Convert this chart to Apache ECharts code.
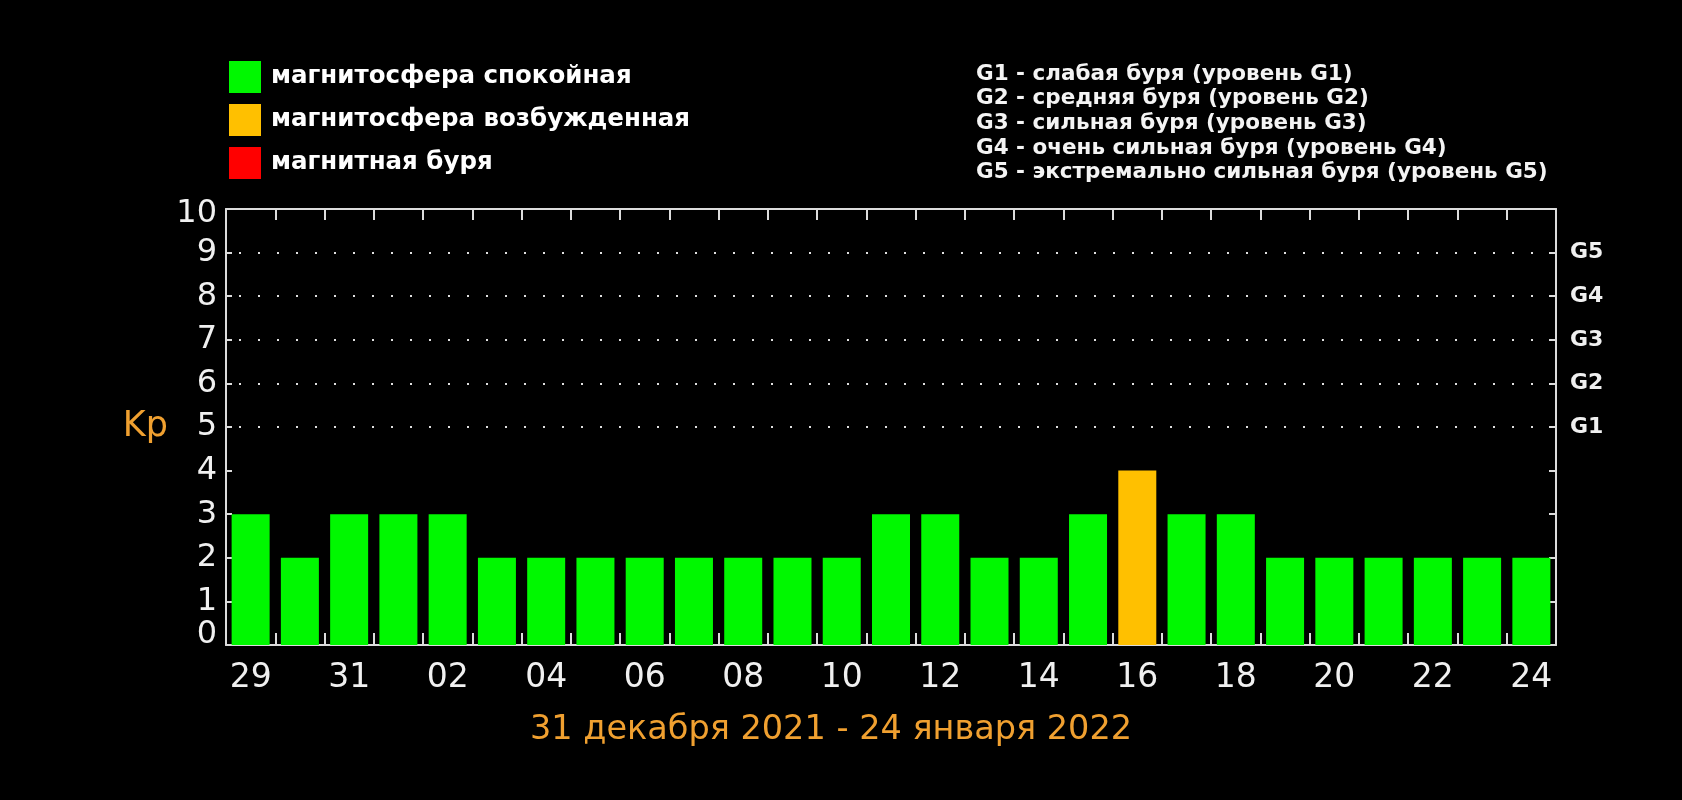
<!DOCTYPE html>
<html>
<head>
<meta charset="utf-8">
<script src="https://cdn.jsdelivr.net/npm/echarts@6/dist/echarts.min.js"></script>
<style>
html,body{margin:0;padding:0;background:#000;}
#chart{width:1682px;height:800px;}
</style>
</head>
<body>
<div id="chart"></div>
<script>
// ---- data ----
const days = ['29','30','31','01','02','03','04','05','06','07','08','09','10','11','12','13','14','15','16','17','18','19','20','21','22','23','24'];
const kpValues = [3,2,3,3,3,2,2,2,2,2,2,2,2,3,3,2,2,3,4,3,3,2,2,2,2,2,2];
const stateNames = ['магнитосфера спокойная','магнитосфера возбужденная','магнитная буря'];
const stateColors = ['#00f800','#ffc000','#ff0000'];
const yTicks = ['0','1','2','3','4','5','6','7','8','9','10'];
const gLevels = [5,6,7,8,9];
const gLabels = ['G1','G2','G3','G4','G5'];
const gDescriptions = [
  'G1 - слабая буря (уровень G1)',
  'G2 - средняя буря (уровень G2)',
  'G3 - сильная буря (уровень G3)',
  'G4 - очень сильная буря (уровень G4)',
  'G5 - экстремально сильная буря (уровень G5)'
];
const periodText = '31 декабря 2021 - 24 января 2022';

// state index for each bar: 0 quiet (<4), 1 disturbed (4), 2 storm (>=5)
function stateOf(v){ return v >= 5 ? 2 : (v >= 4 ? 1 : 0); }

const axisColor = '#dcdcdc';
const orange = '#f0a030';
const numFont = "'DejaVu Sans', sans-serif";

const chart = echarts.init(document.getElementById('chart'));

const series = stateNames.map((name, si) => ({
  name: name,
  type: 'bar',
  xAxisIndex: 0,
  yAxisIndex: 0,
  barWidth: 38,
  barGap: '-100%',
  itemStyle: { color: stateColors[si] },
  data: kpValues.map(v => stateOf(v) === si ? v : '-'),
  silent: true
}));

series[0].markLine = {
  silent: true,
  symbol: ['none','none'],
  label: { show: false },
  lineStyle: { color: '#e0e0e0', width: 2, type: [2, 17], dashOffset: 6 },
  data: gLevels.map(v => ({ yAxis: v }))
};

const option = {
  backgroundColor: '#000',
  animation: false,
  grid: { left: 226, right: 126, top: 209, bottom: 155 },
  legend: {
    orient: 'vertical',
    left: 224,
    top: 56,
    itemWidth: 32,
    itemHeight: 32,
    itemGap: 11,
    icon: 'rect',
    selectedMode: false,
    data: stateNames,
    textStyle: { color: '#fff', fontSize: 24.5, fontWeight: 'bold', fontFamily: numFont, padding: [0,0,0,5] }
  },
  xAxis: [
    {
      type: 'category',
      data: days,
      position: 'bottom',
      boundaryGap: true,
      axisLine: { onZero: false, lineStyle: { color: axisColor, width: 2 } },
      axisTick: { show: true, interval: 0, inside: true, length: 12, lineStyle: { color: axisColor, width: 2 } },
      axisLabel: { interval: 1, color: '#f0f0f0', fontSize: 33, margin: 17, fontFamily: numFont },
      splitLine: { show: false }
    },
    {
      type: 'category',
      data: days,
      position: 'top',
      boundaryGap: true,
      axisLine: { onZero: false, lineStyle: { color: axisColor, width: 2 } },
      axisTick: { show: true, interval: 0, inside: true, length: 11, lineStyle: { color: axisColor, width: 2 } },
      axisLabel: { show: false, interval: 0 },
      splitLine: { show: false }
    }
  ],
  yAxis: [
    {
      type: 'value',
      min: 0, max: 10, interval: 1,
      position: 'left',
      name: 'Kp',
      nameLocation: 'middle',
      nameRotate: 0,
      nameGap: 58,
      nameTextStyle: { color: orange, fontSize: 35, fontFamily: numFont },
      axisLine: { show: true, onZero: false, lineStyle: { color: axisColor, width: 2 } },
      axisTick: { show: true, inside: true, length: 6, lineStyle: { color: axisColor, width: 2 } },
      splitLine: { show: false },
      axisLabel: {
        color: '#f0f0f0', fontSize: 32, margin: 9, fontFamily: numFont,
        formatter: function (v) {
          const s = yTicks[v];
          if (v === 0) return '{lo|' + s + '}';
          if (v === 10) return '{hi|' + s + '}';
          return s;
        },
        rich: {
          lo: { color: '#f0f0f0', fontSize: 32, fontFamily: numFont, padding: [0,0,20,0] },
          hi: { color: '#f0f0f0', fontSize: 32, fontFamily: numFont, padding: [10,0,0,0] }
        }
      }
    },
    {
      type: 'value',
      min: 0, max: 10, interval: 1,
      position: 'right',
      axisLine: { show: true, onZero: false, lineStyle: { color: axisColor, width: 2 } },
      axisTick: { show: true, inside: true, length: 7, lineStyle: { color: axisColor, width: 2 } },
      splitLine: { show: false },
      axisLabel: {
        color: '#f0f0f0', fontSize: 22, fontWeight: 'bold', margin: 14, fontFamily: numFont,
        formatter: function (v) {
          const i = gLevels.indexOf(v);
          return i >= 0 ? gLabels[i] : '';
        }
      }
    }
  ],
  graphic: [
    {
      type: 'text',
      left: 976,
      top: 62,
      style: {
        text: gDescriptions.join('\n'),
        fill: '#f4f4f4',
        font: "bold 21.5px 'DejaVu Sans', sans-serif",
        lineHeight: 24.6
      }
    },
    {
      type: 'text',
      x: 831,
      y: 730,
      style: {
        text: periodText,
        fill: orange,
        font: "33.5px 'DejaVu Sans', sans-serif",
        textAlign: 'center',
        textVerticalAlign: 'middle'
      }
    }
  ],
  series: series
};

chart.setOption(option);
</script>
</body>
</html>
